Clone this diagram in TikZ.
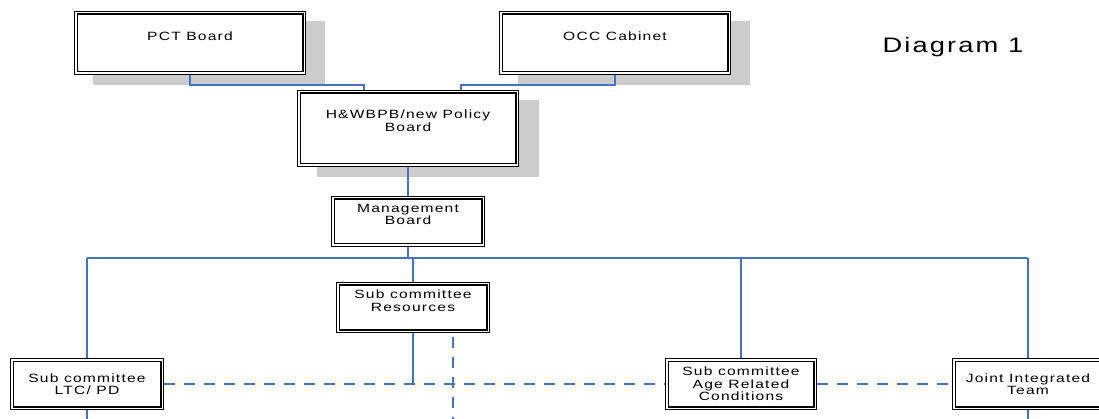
\documentclass[tikz,border=0pt]{standalone}
\usepackage{fontspec}
\newfontfamily\boxfont{Liberation Sans}[FakeStretch=1.3, LetterSpace=10]
\usetikzlibrary{positioning,backgrounds}
\definecolor{linkblue}{RGB}{68,114,196}
\tikzset{
  board/.style={draw, double, double distance=1.3pt, line width=1.2pt, fill=white,
    inner sep=0pt, outer sep=1.85pt, align=center, font=\boxfont\fontsize{12}{12.5}\selectfont},
  boxtext/.style={anchor=center, align=center, font=\boxfont\fontsize{12}{12.5}\selectfont},
  backshade/.style={fill=black!20},
  link/.style={draw=linkblue, line width=1.6pt},
  bus/.style={draw=linkblue, line width=2.2pt},
  buslink/.style={bus, dash pattern=on 11pt off 9pt}
}
\begin{document}
\begin{tikzpicture}[x=1pt,y=-1pt]
                \useasboundingbox (0,0) rectangle (1099,419);
                \clip (0,0) rectangle (1099,419);
                % boards at the top
                \node[board, minimum width=228.3, minimum height=60.3,
                  label={[boxtext, yshift=7pt]center:PCT Board}] (pct) at (190,43) {};
                \node[board, minimum width=228.3, minimum height=60.3,
                  label={[boxtext, yshift=7pt]center:OCC Cabinet}] (occ) at (615,43) {};
                \node[board, minimum width=218.3, minimum height=73.3,
                  label={[boxtext, yshift=8pt]center:H\&WBPB/new Policy\\Board}] (hwb) at (408,128.5) {};
                \begin{scope}[on background layer]
                  \fill[backshade] ([shift={(19,10)}]pct.south west) rectangle ([shift={(19,10)}]pct.north east);
                  \fill[backshade] ([shift={(19,10)}]occ.south west) rectangle ([shift={(19,10)}]occ.north east);
                  \fill[backshade] ([shift={(20,10)}]hwb.south west) rectangle ([shift={(20,10)}]hwb.north east);
                \end{scope}
                \draw[link] (pct.south) -- ++(0,10) -| ([xshift=-44pt]hwb.north);
                \draw[link] (occ.south) -- ++(0,10) -| ([xshift=53pt]hwb.north);
                % management and sub committees
                \node[board, minimum width=150.3, minimum height=47.3,
                  label={[boxtext, yshift=7pt]center:Management\\Board}] (mgmt) at (408,221.5) {};
                \node[board, minimum width=150.3, minimum height=47.3,
                  label={[boxtext, yshift=7pt]center:Sub committee\\Resources}] (res) at (413,307.5) {};
                \node[board, minimum width=150.3, minimum height=48.3] (ltc) at (87,384) {Sub committee\\LTC/ PD};
                \node[board, minimum width=148.3, minimum height=48.3] (age) at (741,384) {Sub committee\\Age Related\\Conditions};
                \node[board, minimum width=148.3, minimum height=48.3] (jit) at (1028,384) {Joint Integrated\\Team};
                \node[font=\boxfont\fontsize{21}{24}\selectfont] (title) at (953,47) {Diagram 1};
                \coordinate (junction) at (408,258);
                \coordinate (droptop) at (453,337);
                \coordinate (dropend) at (453,425);
                \draw[link] (hwb.south) -- (mgmt.north);
                \draw[bus] (mgmt.south) -- (junction);
                \draw[bus] (ltc.north |- junction) -- (jit.north |- junction);
                \draw[bus] (res.north) -- (res.north |- junction);
                \draw[bus] (ltc.north) -- (ltc.north |- junction);
                \draw[bus] (age.north) -- (age.north |- junction);
                \draw[bus] (jit.north) -- (jit.north |- junction);
                \draw[bus] (res.south) -- (res.south |- ltc.east);
                \draw[buslink] (ltc.east) -- (age.west);
                \draw[buslink] (age.east) -- (jit.west);
                \draw[buslink] (droptop) -- (dropend);
                \draw[bus] (ltc.south) -- ++(0,15);
                \draw[bus] (jit.south) -- ++(0,15);
            \end{tikzpicture}
\end{document}
